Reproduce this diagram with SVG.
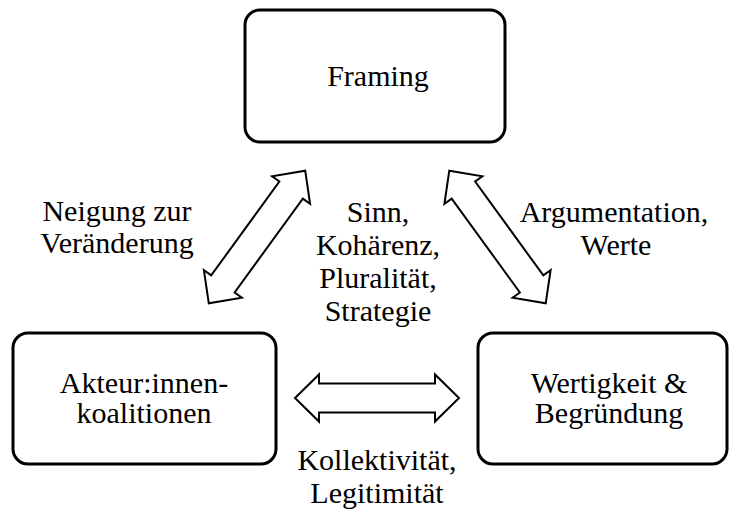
<svg xmlns="http://www.w3.org/2000/svg" width="731" height="513" viewBox="0 0 731 513">
<style>
.box{fill:#fff;stroke:#000;stroke-width:3}
.arr{fill:#fff;stroke:#000;stroke-width:2;stroke-linejoin:miter}
text{font-family:"Liberation Serif","Times New Roman",serif;font-size:30px;fill:#000;text-anchor:middle}
</style>
<defs>
<path id="dbl" d="M-82,0 L-58,-23.5 L-58,-14.5 L58,-14.5 L58,-23.5 L82,0 L58,23.5 L58,14.5 L-58,14.5 L-58,23.5 Z"/>
</defs>
<rect width="731" height="513" fill="#fff"/>
<g id="connectors">
<use href="#dbl" class="arr" transform="translate(257,237) rotate(-54)"/>
<use href="#dbl" class="arr" transform="translate(497.5,237) rotate(54)"/>
<use href="#dbl" class="arr" transform="translate(377,398)"/>
</g>
<g id="node-framing">
<rect class="box" x="245" y="10" width="260" height="132" rx="15"/>
<text x="378" y="86">Framing</text>
</g>
<g id="node-akteur">
<rect class="box" x="13" y="333" width="263" height="131" rx="15"/>
<text x="144" y="393">Akteur:innen-</text>
<text x="144" y="423">koalitionen</text>
</g>
<g id="node-wertigkeit">
<rect class="box" x="478" y="333" width="249" height="131" rx="15"/>
<text x="609" y="393">Wertigkeit &amp;</text>
<text x="609" y="423">Begründung</text>
</g>
<g id="labels">
<text x="117" y="221">Neigung zur</text>
<text x="117" y="253">Veränderung</text>
<text x="378" y="222">Sinn,</text>
<text x="378" y="255">Kohärenz,</text>
<text x="378" y="288">Pluralität,</text>
<text x="378" y="321">Strategie</text>
<text x="614" y="222">Argumentation,</text>
<text x="616" y="255">Werte</text>
<text x="377" y="470">Kollektivität,</text>
<text x="377" y="503">Legitimität</text>
</g>
</svg>
